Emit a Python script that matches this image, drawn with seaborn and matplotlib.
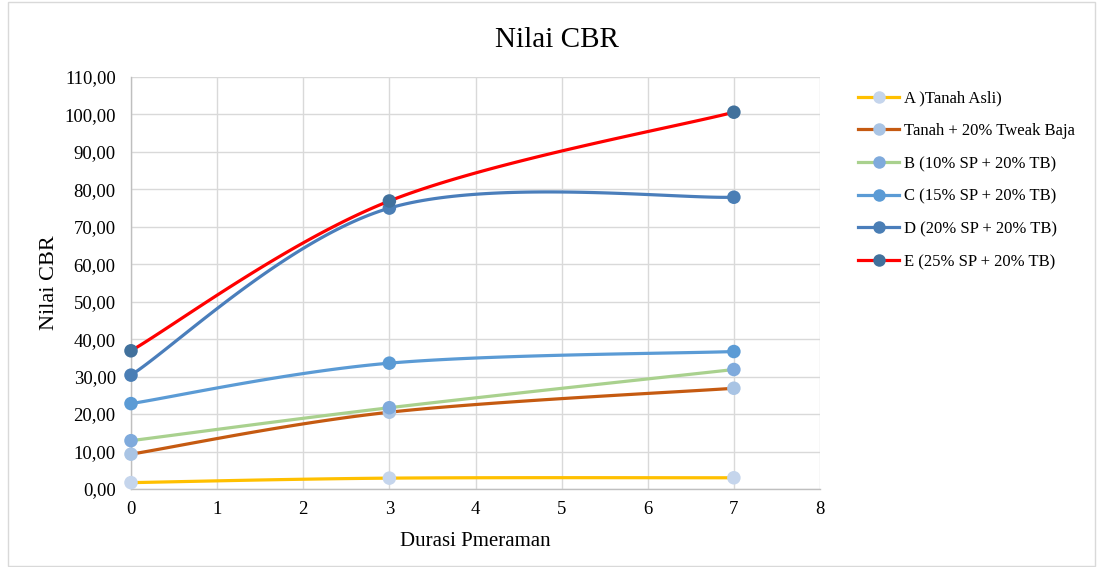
import numpy as np
import pandas as pd
import seaborn as sns
import matplotlib.pyplot as plt
from matplotlib.lines import Line2D
from matplotlib.patches import Rectangle
from matplotlib.ticker import FuncFormatter

# data
durasi = [0, 3, 7]
series_names = ['A )Tanah Asli)', 'Tanah + 20% Tweak Baja', 'B (10% SP + 20% TB)',
                'C (15% SP + 20% TB)', 'D (20% SP + 20% TB)', 'E (25% SP + 20% TB)']
a_vals = [1.7, 2.9, 3.0]
tanah_vals = [9.3, 20.5, 26.9]
b_vals = [12.9, 21.7, 31.9]
c_vals = [22.8, 33.6, 36.7]
d_vals = [30.4, 75.0, 77.9]
e_vals = [36.9, 76.9, 100.6]
all_vals = [a_vals, tanah_vals, b_vals, c_vals, d_vals, e_vals]

line_colors = ['#FFC000', '#C55A11', '#A9D18E', '#5B9BD5', '#4A7EBB', '#FF0000']
marker_colors = ['#C5D5EC', '#A9C4E4', '#7FAADC', '#5B9BD5', '#4A7EB5', '#41719C']


def excel_smooth(xs, ys, n=60):
    # cubic bezier smoothing like Excel's "smoothed line"
    pts = np.column_stack([xs, ys]).astype(float)
    out = []
    for i in range(len(pts) - 1):
        p0 = pts[max(i - 1, 0)]
        p1 = pts[i]
        p2 = pts[i + 1]
        p3 = pts[min(i + 2, len(pts) - 1)]
        c1 = p1 + (p2 - p0) / 6
        c2 = p2 - (p3 - p1) / 6
        t = np.linspace(0, 1, n)[:, None]
        seg = ((1 - t) ** 3) * p1 + 3 * ((1 - t) ** 2) * t * c1 + 3 * (1 - t) * t ** 2 * c2 + t ** 3 * p2
        out.append(seg if i == 0 else seg[1:])
    return np.vstack(out)


plt.rcParams['font.family'] = ['Liberation Serif', 'DejaVu Serif']

fig = plt.figure(figsize=(10.97, 5.67), dpi=100)
ax = fig.add_axes([131 / 1097, 1 - 489 / 567, (820 - 131) / 1097, (489 - 77) / 567])

for k in range(len(series_names)):
    curve = excel_smooth(durasi, all_vals[k])
    cdf = pd.DataFrame({'x': curve[:, 0], 'y': curve[:, 1]})
    sns.lineplot(data=cdf, x='x', y='y', sort=False, ax=ax, color=line_colors[k],
                 linewidth=2.3, zorder=3 + 2 * k)
    pdf = pd.DataFrame({'x': durasi, 'y': all_vals[k]})
    sns.scatterplot(data=pdf, x='x', y='y', ax=ax, color=marker_colors[k], s=95,
                    edgecolor='none', zorder=4 + 2 * k, clip_on=False)

ax.set_xlim(0, 8)
ax.set_ylim(0, 110)
ax.set_xticks(range(0, 9))
ax.set_yticks(range(0, 111, 10))
ax.yaxis.set_major_formatter(FuncFormatter(lambda v, p: f'{v:.2f}'.replace('.', ',')))
ax.grid(True, color='#D9D9D9', linewidth=1.0)
ax.set_axisbelow(True)
for s in ['top', 'right']:
    ax.spines[s].set_visible(False)
for s in ['left', 'bottom']:
    ax.spines[s].set_color('#BFBFBF')
    ax.spines[s].set_linewidth(1.0)
ax.tick_params(length=0, labelsize=13.5, colors='#000000')
ax.tick_params(axis='y', pad=11)
ax.tick_params(axis='x', pad=9)
ax.set_xlabel('Durasi Pmeraman', fontsize=15, labelpad=10)
ax.set_ylabel('Nilai CBR', fontsize=16, labelpad=4)
fig.text(557 / 1097, 1 - 40 / 567, 'Nilai CBR', ha='center', va='center', fontsize=21)

handles = [Line2D([0], [0], color=line_colors[k], linewidth=2.3, marker='o', markersize=9,
                  markerfacecolor=marker_colors[k], markeredgecolor='none')
           for k in range(len(series_names))]
fig.legend(handles, series_names, loc='upper left', bbox_to_anchor=(851 / 1097, 1 - 84 / 567),
           frameon=False, fontsize=12, handlelength=2.5, labelspacing=1.0,
           handletextpad=0.25, borderaxespad=0)

fig.patches.append(Rectangle((8 / 1097, 1 / 567), 1087 / 1097, 564 / 567, transform=fig.transFigure,
                             fill=False, edgecolor='#D9D9D9', linewidth=1.0))

fig.savefig('out.png', dpi=100)
